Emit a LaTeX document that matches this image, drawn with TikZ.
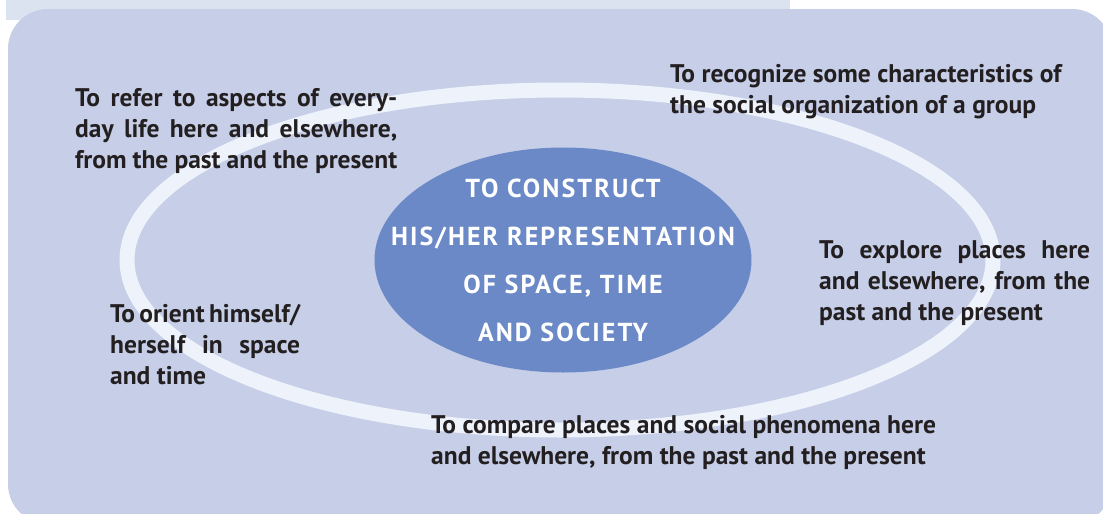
\documentclass[tikz,border=0pt]{standalone}
\usepackage{fontspec}
\setmainfont{PT Sans}
\usetikzlibrary{shapes.geometric}
\usepackage{xcolor}
\definecolor{fundo}{HTML}{C6CEE8}
\definecolor{faixa}{HTML}{DCE3F0}
\definecolor{anel}{HTML}{EEF2FA}
\definecolor{centro}{HTML}{6B89C6}
\definecolor{tinta}{HTML}{231F20}
\tikzset{
  meta/.style={font=\bfseries\fontsize{25.5}{31}\selectfont, text=tinta, inner sep=0pt, anchor=north west},
  titulo/.style={font=\bfseries\fontsize{26}{48}\selectfont\addfontfeature{LetterSpace=8}, text=white, inner sep=0pt, align=center}
}

\begin{document}
\begin{tikzpicture}[x=1pt,y=-1pt]
\useasboundingbox (0,0) rectangle (1103,514);
\clip (0,0) rectangle (1103,514);
% Fundo
\fill[faixa] (6,0) rectangle (790,20);
\fill[fundo, rounded corners=40pt] (8,9) rectangle (1112,524);
% Anel
\draw[anel, line width=15pt] (560,260) ellipse (433pt and 170pt);
% Centro
\node[ellipse, fill=centro, minimum width=377pt, minimum height=225pt, inner sep=0pt] (nucleo) at (563,260) {};
\node[titulo] (tema) at (nucleo.center) {TO CONSTRUCT\\HIS/HER REPRESENTATION\\OF SPACE, TIME\\AND SOCIETY};
% Metas
\node[meta, text width=322pt, align=justify] (cotidiano) at (75,88) {To refer to aspects of every-\linebreak day life here and elsewhere,\linebreak from the past and the present};
\node[meta, align=left] (grupo) at (670,64) {To recognize some characteristics of\\the social organization of a group};
\node[meta, text width=271pt, align=justify] (lugares) at (819,240) {To explore places here\linebreak and elsewhere, from the\linebreak past and the present};
\node[meta, text width=190pt, align=justify] (orientar) at (110,304) {To orient himself/\linebreak herself in space\linebreak and time};
\node[meta, align=left] (comparar) at (431,415) {To compare places and social phenomena here\\and elsewhere, from the past and the present};
\end{tikzpicture}
\end{document}
